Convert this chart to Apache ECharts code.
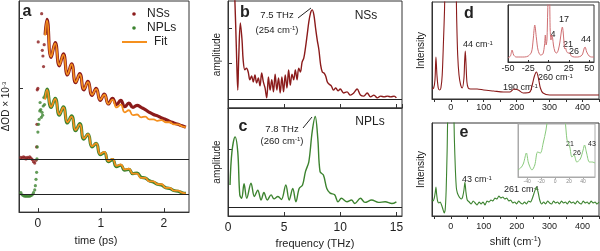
<!DOCTYPE html>
<html>
<head>
<meta charset="utf-8">
<script src="https://cdn.jsdelivr.net/npm/echarts@6/dist/echarts.min.js"></script>
<style>
  html, body { margin: 0; padding: 0; background: #fff; }
  #chart { width: 600px; height: 251px; }
</style>
</head>
<body>
<div id="chart"></div>
<script>
// panel a: pump-probe transients (ΔOD x 1e-3), NSs and NPLs offset by -0.5
const tFit = [0.115, 0.145, 0.21, 0.275, 0.34, 0.405, 0.47, 0.535, 0.6, 0.665, 0.73, 0.795, 0.86, 0.925, 0.99, 1.055, 1.12, 1.185,
  1.25, 1.315, 1.38, 1.445, 1.51, 1.575, 1.64, 1.705, 1.77, 1.835, 1.9, 1.965, 2.03, 2.095, 2.16, 2.225, 2.29, 2.35];
const nssFit = [1.75, 1.96, 1.45, 1.64, 1.33, 1.48, 1.20, 1.34, 1.09, 1.20, 0.99, 1.09, 0.91, 0.99, 0.84, 0.91, 0.78, 0.84,
  0.73, 0.77, 0.66, 0.69, 0.62, 0.63, 0.59, 0.60, 0.56, 0.56, 0.54, 0.55, 0.52, 0.52, 0.49, 0.49, 0.46, 0.45];
const nssData = [1.76, 1.98, 1.44, 1.65, 1.32, 1.49, 1.19, 1.35, 1.08, 1.21, 0.98, 1.10, 0.90, 1.00, 0.83, 0.92, 0.78, 0.86,
  0.77, 0.83, 0.74, 0.79, 0.73, 0.76, 0.73, 0.70, 0.66, 0.63, 0.61, 0.58, 0.56, 0.53, 0.51, 0.49, 0.47, 0.45];
const nplFit = [0.84, 0.98, 0.74, 0.85, 0.63, 0.73, 0.52, 0.60, 0.41, 0.49, 0.29, 0.35, 0.18, 0.22, 0.07, 0.10, -0.03, 0.00,
  -0.10, -0.08, -0.15, -0.14, -0.21, -0.21, -0.27, -0.27, -0.32, -0.32, -0.36, -0.36, -0.41, -0.41, -0.45, -0.45, -0.48, -0.49];
const nplData = [0.86, 0.99, 0.73, 0.86, 0.62, 0.74, 0.51, 0.61, 0.40, 0.50, 0.28, 0.35, 0.17, 0.22, 0.06, 0.09, -0.04, -0.01,
  -0.11, -0.09, -0.16, -0.15, -0.21, -0.20, -0.26, -0.27, -0.31, -0.33, -0.36, -0.37, -0.41, -0.42, -0.45, -0.46, -0.48, -0.49];
const nssEarly = [[-0.27, 0.02], [-0.25, 0.01], [-0.23, 0.03], [-0.21, 0.02], [-0.19, 0.0], [-0.17, 0.02], [-0.15, 0.01],
  [-0.13, 0.03], [-0.11, 0.01], [-0.09, -0.01], [-0.07, -0.04], [-0.05, -0.06], [-0.03, -0.02], [-0.02, 0.17], [-0.015, 0.49],
  [-0.01, 0.98], [0.0, 1.0], [0.005, 1.66], [0.06, 2.06], [0.07, 1.54], [0.08, 1.46], [0.09, 1.31], [0.1, 1.62]];
const nplEarly = [[-0.27, -0.48], [-0.25, -0.51], [-0.23, -0.52], [-0.21, -0.53], [-0.19, -0.53], [-0.17, -0.53], [-0.15, -0.53],
  [-0.13, -0.53], [-0.11, -0.52], [-0.09, -0.51], [-0.07, -0.48], [-0.05, -0.44], [-0.04, -0.38], [-0.03, -0.29], [-0.02, -0.19],
  [-0.015, 0.0], [-0.01, 0.17], [0.0, 0.38], [0.01, 0.49], [0.02, 0.56], [0.03, 0.68], [0.035, 0.8], [0.045, 0.7], [0.055, 0.59],
  [0.065, 0.66], [0.075, 0.62], [0.085, 0.75], [0.095, 0.87], [0.105, 0.77], [0.115, 0.9]];

// panel b/c: FFT amplitude vs frequency (THz)
const freqB = [0.5, 0.6, 0.75, 0.87, 0.95, 1.1, 1.25, 1.35, 1.5, 1.65, 1.8, 1.95, 2.1, 2.25, 2.4, 2.55, 2.7, 2.85, 3.0, 3.15,
  3.3, 3.45, 3.6, 3.75, 3.9, 4.05, 4.2, 4.35, 4.5, 4.65, 4.8, 4.95, 5.1, 5.25, 5.4, 5.55, 5.7, 5.85, 6.0, 6.15, 6.3, 6.45,
  6.6, 6.75, 6.9, 7.05, 7.2, 7.35, 7.5, 7.65, 7.8, 7.95, 8.1, 8.25, 8.4, 8.55, 8.7, 8.85, 9.0, 9.2, 9.4, 9.6, 9.8, 10.0,
  10.3, 10.6, 10.9, 11.2, 11.5, 11.8, 12.1, 12.4, 12.7, 13.0, 13.3, 13.6, 13.9, 14.2, 14.5, 14.8, 15.0];
const ampB = [3.5, 2.9, 1.38, 0.25, 1.1, 2.14, 1.66, 1.1, 0.82, 0.87, 0.76, 0.54, 0.65, 0.48, 0.68, 0.45, 0.59, 0.37, 0.73, 0.48,
  0.31, 0.03, 0.62, 0.25, 0.54, 0.2, 0.7, 0.25, 0.59, 0.17, 0.62, 0.2, 0.68, 0.31, 0.82, 0.39, 0.7, 0.54, 0.82, 0.54, 0.87, 0.76,
  1.04, 1.15, 1.44, 1.8, 2.17, 2.42, 2.51, 2.37, 2.0, 1.66, 1.38, 0.96, 0.76, 0.73, 0.65, 0.48, 0.42, 0.37, 0.25, 0.31, 0.23, 0.28,
  0.17, 0.2, 0.11, 0.17, 0.28, 0.11, 0.08, 0.17, 0.06, 0.11, 0.03, 0.08, 0.06, 0.08, 0.06, 0.08, 0.03];
const freqC = [0.18, 0.35, 0.63, 0.87, 1.05, 1.22, 1.43, 1.67, 2.05, 2.35, 2.65, 2.95, 3.2, 3.5, 3.84, 4.1, 4.45, 4.76, 5.15, 5.45,
  5.77, 6.05, 6.34, 6.64, 6.9, 7.2, 7.5, 7.77, 8.0, 8.2, 8.5, 8.8, 9.1, 9.5, 9.8, 10.1, 10.6, 11.0, 11.3, 11.8, 12.2, 12.8,
  13.4, 14.0, 14.6, 15.0];
const ampC = [0.38, 0.95, 1.21, 0.95, 0.21, 0.15, 0.40, 0.15, 0.41, 0.18, 0.29, 0.12, 0.25, 0.12, 0.21, 0.14, 0.18, 0.13, 0.38, 0.12,
  0.32, 0.09, 0.32, 0.38, 0.61, 0.78, 1.30, 1.56, 1.18, 0.61, 0.55, 0.32, 0.24, 0.21, 0.09, 0.15, 0.09, 0.12, 0.06, 0.15, 0.08, 0.12,
  0.08, 0.09, 0.06, 0.09];

// panel d/e: Raman spectra (shift in cm-1, intensity arb.)
const shiftD = [-57, -52, -48, -45, -42, -38, -34, -30, -26, -22, -19, -17, -10, 0, 10, 15, 18, 21, 25, 30, 35, 40, 42, 44, 46, 49,
  53, 60, 80, 100, 130, 160, 180, 192, 205, 220, 240, 248, 254, 260, 266, 272, 280, 300, 350, 400, 450];
const intD = [10, 11, 19, 42, 24, 11, 9, 11, 24, 59, 89, 120, 150, 150, 150, 130, 79, 44, 24, 14, 11, 21, 37, 48, 37, 17,
  11, 10, 10, 9, 8, 7, 7, 10, 9, 6, 7, 15, 23, 27, 21, 11, 6, 4, 4, 4, 4];
const shiftDi = [-50, -47, -45, -43, -40, -35, -30, -25, -21, -19, -17, -15, -13, -10, -7, -5, -4, -3, -2, -1, 0, 1, 2, 3, 4,
  5, 6, 8, 10, 12, 14, 16, 17, 18, 19, 20, 21, 22, 24, 26, 28, 32, 36, 40, 42, 44, 45, 47, 50, 53, 56];
const intDi = [4, 6, 12, 7, 5, 5, 5, 6, 10, 22, 37, 24, 12, 7, 8, 17, 27, 17, 22, 52, 70, 70, 32, 22, 27,
  24, 17, 10, 9, 12, 20, 32, 35, 30, 20, 13, 14, 11, 9, 9, 6, 5, 5, 6, 8, 14, 15, 10, 6, 5, 5];
const shiftE = [-57, -54, -50, -47, -45, -43, -40, -36, -32, -28, -24, -20, -17, -14, -11, -8, 0, 8, 11, 14, 17, 20, 24, 28, 32,
  36, 40, 43, 46, 50, 56, 62, 68, 74, 80, 86, 92, 98, 104, 110, 116, 122, 128, 134, 140, 146, 152, 158, 164, 170, 176, 182,
  188, 194, 200, 206, 212, 218, 224, 230, 236, 242, 248, 254, 260, 265, 270, 276, 282, 288, 294, 300, 306, 312, 318, 324,
  330, 336, 342, 348, 354, 360, 366, 372, 378, 384, 390, 396, 402, 408, 414, 420, 426, 432, 438, 444, 450];
const intE = [16, 15, 18, 24, 29, 22, 15, 13, 14, 11, 7, 3, 6, 26, 66, 116, 136, 116, 76, 46, 28, 23, 20, 18, 17,
  19, 26, 34, 24, 16, 14, 12, 15, 13, 11, 14, 12, 14, 11, 15, 14, 16, 15, 18, 17, 20, 18, 19, 17, 18, 15, 16,
  13, 14, 12, 15, 13, 12, 14, 12, 15, 14, 18, 24, 29, 24, 16, 12, 14, 12, 15, 13, 12, 15, 13, 14,
  12, 15, 13, 14, 12, 15, 13, 14, 12, 15, 13, 12, 15, 13, 14, 12, 15, 13, 14, 12, 14];
const shiftEi = [-53, -48, -45, -41, -38, -33, -29, -25, -21, -17, -13, -11, -5, 0, 5, 11, 14, 17, 19, 21, 24, 27, 31, 36, 40,
  42, 45, 49, 53, 57];
const intEi = [7, 10, 14, 24, 14, 7, 12, 25, 24, 34, 47, 57, 80, 90, 80, 60, 57, 37, 34, 30, 20, 22, 15, 18, 27, 32, 24, 15, 15, 14];

const RED = '#8b1b1b', GREEN = '#3c832f', ORANGE = '#f5901e', AXIS = '#333';
const FONT = '"Liberation Sans", Arial, sans-serif';
const zip = (xs, ys) => xs.map((x, i) => [x, ys[i]]);
const SUP = { s: { fontSize: 6, verticalAlign: 'top', fontFamily: FONT } };

const c = echarts.init(document.getElementById('chart'), null, { renderer: 'canvas' });

const grid = (left, top, width, height, borderColor = AXIS) =>
  ({ left, top, width, height, show: true, borderColor, borderWidth: 1, backgroundColor: 'transparent' });

const xAx = (gridIndex, min, max, extra = {}) => ({
  gridIndex, type: 'value', min, max,
  axisLine: { onZero: false, lineStyle: { color: AXIS } },
  splitLine: { show: false },
  axisLabel: { show: false },
  ...extra,
});
const yAx = (gridIndex, min, max, extra = {}) => ({
  gridIndex, type: 'value', min, max,
  axisLine: { onZero: false, lineStyle: { color: AXIS } },
  splitLine: { show: false },
  axisLabel: { show: false },
  axisTick: { show: false },
  ...extra,
});
const lineS = (xi, data, color, width, extra = {}) => ({
  type: 'line', xAxisIndex: xi, yAxisIndex: xi, data, showSymbol: false, smooth: 0.35,
  lineStyle: { color, width }, itemStyle: { color }, silent: true, ...extra,
});
const hLines = (vals) => ({
  silent: true, symbol: 'none', label: { show: false },
  lineStyle: { color: '#222', width: 1, type: 'solid' },
  data: vals.map(v => ({ yAxis: v })),
});

const txt = (x, y, text, size = 9, extra = {}) => ({
  type: 'text', x, y, silent: true,
  style: { text, fontSize: size, fontFamily: FONT, fill: '#222', align: 'center', verticalAlign: 'middle', rich: SUP, ...extra },
});
const seg = (x1, y1, x2, y2, stroke = '#222', lineWidth = 1) => ({
  type: 'line', silent: true, shape: { x1, y1, x2, y2 }, style: { stroke, lineWidth },
});
const dot = (cx, cy, fill) => ({ type: 'circle', silent: true, shape: { cx, cy, r: 1.8 }, style: { fill } });

c.setOption({
  animation: false,
  textStyle: { fontFamily: FONT, color: '#222' },
  grid: [
    grid(16, 1, 173, 215),      // a
    grid(228, 1, 174, 107),     // b
    grid(228, 108, 174, 108),   // c
    grid(432, 2, 167, 97),      // d
    grid(432, 123, 167, 93),    // e
    grid(508, 5, 86, 57),       // d inset
    grid(518, 124, 77, 53, '#aaa'), // e inset
  ],
  xAxis: [
    xAx(0, -0.3, 2.4, {
      axisTick: { inside: true, length: 4, customValues: [0, 1, 2], lineStyle: { color: AXIS } },
      axisLabel: { show: true, customValues: [0, 1, 2], fontSize: 12, color: '#222', margin: 6 },
      name: 'time (ps)', nameLocation: 'middle', nameGap: 22,
      nameTextStyle: { fontSize: 11, color: '#222', padding: [0, 16, 0, 0] },
    }),
    xAx(1, 0, 15.5, { interval: 5, axisTick: { inside: true, length: 4, lineStyle: { color: AXIS } } }),
    xAx(2, 0, 15.5, {
      interval: 5,
      axisTick: { inside: true, length: 4, lineStyle: { color: AXIS } },
      axisLabel: { show: true, fontSize: 12, color: '#222', margin: 6 },
      name: 'frequency (THz)', nameLocation: 'middle', nameGap: 22,
      nameTextStyle: { fontSize: 11, color: '#222' },
    }),
    xAx(3, -57, 450, {
      axisTick: { length: 3, customValues: [-50, 0, 50, 100, 150, 200, 250, 300, 350, 400, 450], lineStyle: { color: AXIS } },
      axisLabel: { show: true, customValues: [0, 100, 200, 300, 400], fontSize: 9, color: '#222', margin: 4 },
    }),
    xAx(4, -57, 450, {
      axisTick: { length: 3, customValues: [-50, 0, 50, 100, 150, 200, 250, 300, 350, 400, 450], lineStyle: { color: AXIS } },
      axisLabel: { show: true, customValues: [0, 100, 200, 300, 400], fontSize: 9, color: '#222', margin: 6 },
      name: 'shift (cm{s|-1})', nameLocation: 'middle', nameGap: 20,
      nameTextStyle: { fontSize: 11, color: '#222', rich: { s: { fontSize: 7, verticalAlign: 'top' } } },
    }),
    xAx(5, -50, 56, {
      axisTick: { inside: true, length: 2, customValues: [-50, -25, 0, 25, 50], lineStyle: { color: AXIS } },
      axisLabel: { show: true, customValues: [-50, -25, 0, 25, 50], fontSize: 9, color: '#222', margin: 2 },
    }),
    xAx(6, -53, 57, {
      axisLine: { onZero: false, lineStyle: { color: '#aaa' } },
      axisTick: { length: 2, customValues: [-40, -20, 0, 20, 40], lineStyle: { color: '#aaa' } },
      axisLabel: { show: true, customValues: [-40, -20, 0, 20, 40], fontSize: 5, color: '#888', margin: 2 },
    }),
  ],
  yAxis: [
    yAx(0, -0.755, 2.24, {
      axisTick: { show: true, inside: true, length: 4, customValues: [0, 1, 2], lineStyle: { color: AXIS } },
      name: 'ΔOD × 10{s|-3}', nameLocation: 'middle', nameGap: 8,
      nameTextStyle: { fontSize: 10, color: '#222', rich: { s: { fontSize: 6, verticalAlign: 'top' } } },
    }),
    yAx(1, -0.254, 2.76, {
      axisTick: { show: true, inside: true, length: 4, customValues: [1, 2], lineStyle: { color: AXIS } },
      name: 'amplitude', nameLocation: 'middle', nameGap: 6, nameTextStyle: { fontSize: 10, color: '#222' },
    }),
    yAx(2, -0.155, 1.707, {
      axisTick: { show: true, inside: true, length: 4, customValues: [1], lineStyle: { color: AXIS } },
      name: 'amplitude', nameLocation: 'middle', nameGap: 6, nameTextStyle: { fontSize: 10, color: '#222' },
    }),
    yAx(3, 0, 97, { name: 'Intensity', nameLocation: 'middle', nameGap: 6, nameTextStyle: { fontSize: 10, color: '#222' } }),
    yAx(4, 0, 93, { name: 'Intensity', nameLocation: 'middle', nameGap: 6, nameTextStyle: { fontSize: 10, color: '#222' } }),
    yAx(5, 0, 57),
    yAx(6, 0, 53, { axisLine: { onZero: false, lineStyle: { color: '#aaa' } } }),
  ],
  series: [
    // a
    { type: 'scatter', xAxisIndex: 0, yAxisIndex: 0, data: nssEarly, symbolSize: 3.2, itemStyle: { color: RED }, silent: true,
      markLine: hLines([0, -0.5]) },
    { type: 'scatter', xAxisIndex: 0, yAxisIndex: 0, data: nplEarly, symbolSize: 3.2, itemStyle: { color: GREEN }, silent: true },
    lineS(0, zip(tFit, nssData), RED, 3.2, { smooth: 0.5 }),
    lineS(0, zip(tFit, nplData), GREEN, 3.2, { smooth: 0.5 }),
    lineS(0, zip(tFit, nssFit), ORANGE, 1.8, { smooth: 0.5 }),
    lineS(0, zip(tFit, nplFit), ORANGE, 1.8, { smooth: 0.5 }),
    // b, c
    lineS(1, zip(freqB, ampB), RED, 1.4, { markLine: hLines([0]) }),
    lineS(2, zip(freqC, ampC), GREEN, 1.4, { markLine: hLines([0]) }),
    // d, e
    lineS(3, zip(shiftD, intD), RED, 1.1, { smooth: 0.3 }),
    lineS(4, zip(shiftE, intE), GREEN, 1.1, { smooth: 0.2 }),
    lineS(5, zip(shiftDi, intDi), '#cf6f72', 1, { smooth: 0.3 }),
    lineS(6, zip(shiftEi, intEi), '#88c97b', 1, { smooth: 0.3 }),
  ],
  graphic: [
    // panel letters
    txt(27, 12, 'a', 16, { fontWeight: 'bold' }),
    txt(245, 13, 'b', 16, { fontWeight: 'bold' }),
    txt(243, 127, 'c', 16, { fontWeight: 'bold' }),
    txt(469, 14, 'd', 16, { fontWeight: 'bold' }),
    txt(464, 133, 'e', 16, { fontWeight: 'bold' }),
    // legend a
    dot(134, 14, RED), txt(147, 14, 'NSs', 12, { align: 'left' }),
    dot(134, 28, GREEN), txt(147, 28, 'NPLs', 12, { align: 'left' }),
    seg(122, 42, 147, 42, ORANGE, 2), txt(154, 42, 'Fit', 12, { align: 'left' }),
    // b
    txt(277, 15, '7.5 THz', 9.5), txt(277, 30, '(254 cm{s|-1})', 9.5), seg(298, 18, 311, 8),
    txt(366, 16, 'NSs', 12),
    // c
    txt(282, 129, '7.8 THz', 9.5), txt(282, 141, '(260 cm{s|-1})', 9.5), seg(303, 128, 312, 117),
    txt(370, 122, 'NPLs', 12),
    // d
    txt(463, 45, '44 cm{s|-1}', 9, { align: 'left' }),
    txt(503, 88, '190 cm{s|-1}', 9, { align: 'left' }),
    txt(538, 78, '260 cm{s|-1}', 9, { align: 'left' }),
    txt(564, 20, '17', 9), txt(553, 35, '4', 9), txt(568, 45, '21', 9), txt(574, 52, '26', 9), txt(586, 40, '44', 9),
    // e
    txt(462, 180, '43 cm{s|-1}', 9, { align: 'left' }),
    txt(504, 190, '261 cm{s|-1}', 9, { align: 'left' }),
    txt(570, 144, '21', 7), txt(577, 153, '26', 7), txt(592, 144, '43', 7),
  ],
});
</script>
</body>
</html>
